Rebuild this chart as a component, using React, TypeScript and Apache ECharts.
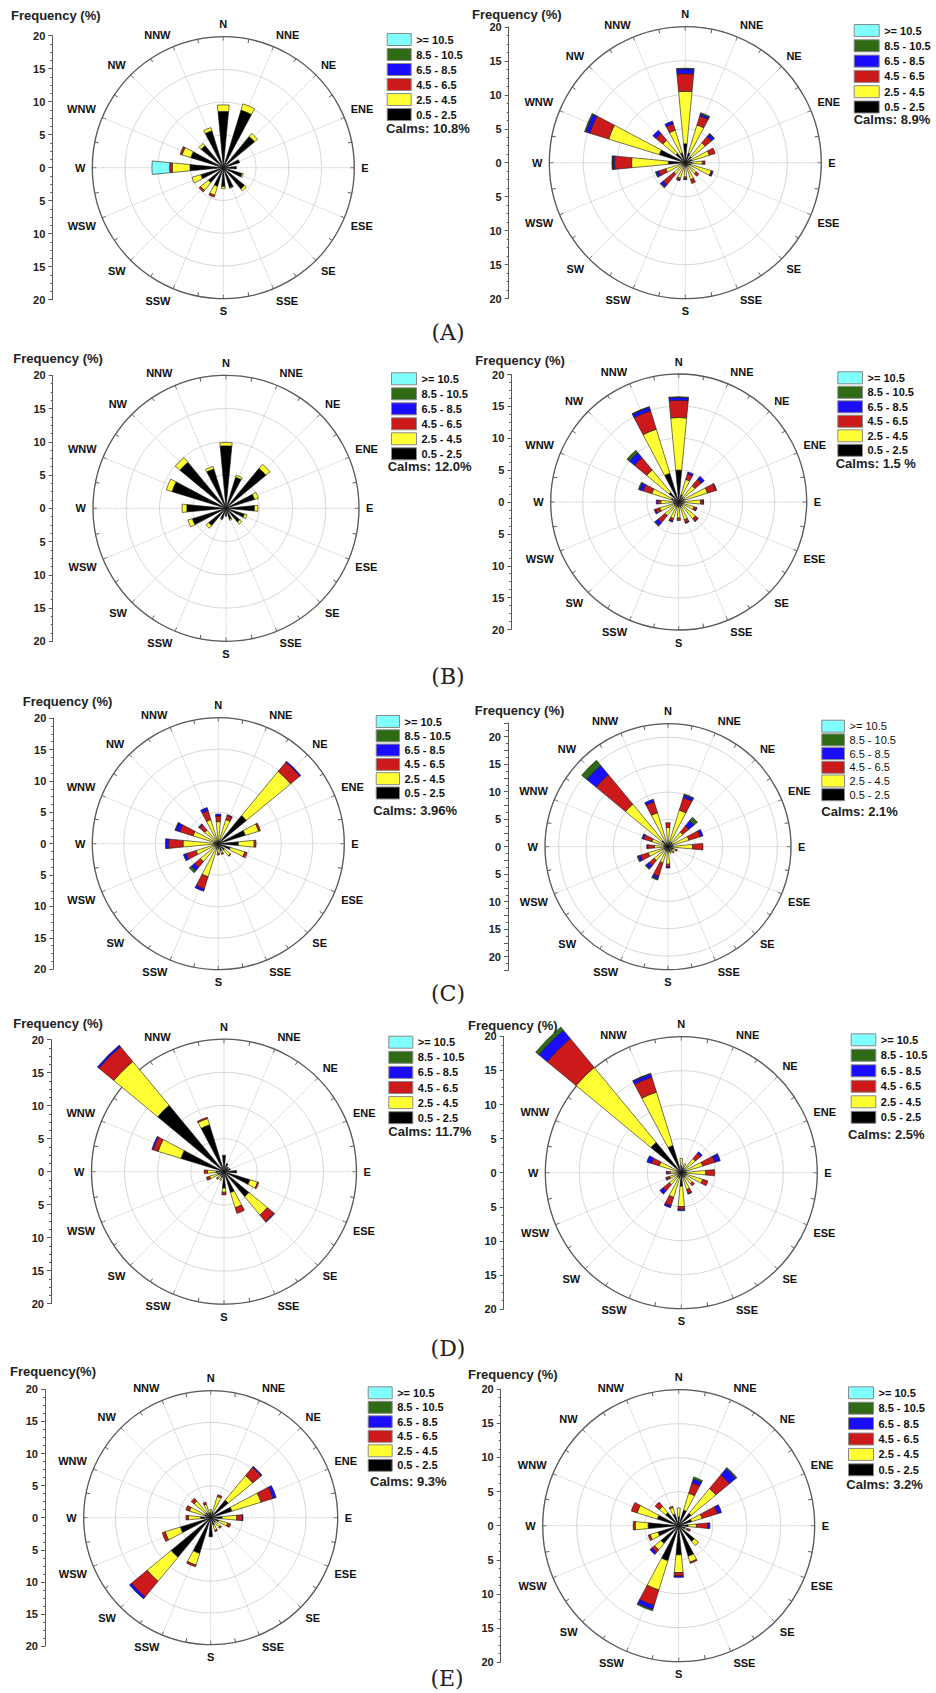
import React, { useEffect, useRef } from 'react';
import * as echarts from 'echarts';

const DIRECTIONS = ['N', 'NNE', 'NE', 'ENE', 'E', 'ESE', 'SE', 'SSE', 'S', 'SSW', 'SW', 'WSW', 'W', 'WNW', 'NW', 'NNW'];
const SPEED_CLASSES = ['0.5 - 2.5', '2.5 - 4.5', '4.5 - 6.5', '6.5 - 8.5', '8.5 - 10.5', '>= 10.5'];
const CLASS_COLORS = ['#000000', '#FFFF33', '#CC1A1A', '#1A0DFF', '#2E6B14', '#80FFFF'];
const PANEL_LETTERS = ['(A)', '(B)', '(C)', '(D)', '(E)'];

// frequency (%) per direction (N..NNW), per speed class [0.5-2.5, 2.5-4.5, 4.5-6.5, 6.5-8.5, 8.5-10.5, >=10.5]
const roseA1 = [
  [8.6, 1.0], [9.2, 1.0], [6.2, 0.6], [2.6], [2.0], [3.0, 0.2], [4.2, 0.4], [3.2, 0.1],
  [2.9, 0.3], [3.0, 1.4, 0.3], [3.0, 1.5, 0.3], [3.6, 1.4], [5.1, 2.7, 0.4, 0, 0, 2.7], [5.2, 1.4, 0.3], [4.4, 0.4], [5.9, 0.5],
];
const roseA2 = [
  [2.8, 7.7, 2.6, 0.7, 0.1], [1.5, 4.3, 1.4, 0.3, 0.2], [1.2, 2.6, 1.2, 0.5, 0.1], [1.0, 2.7, 0.9], [1.0, 1.5, 0.4], [0.8, 3.2, 0.1, 0.2], [0.6, 1.5, 0.5], [0.6, 2.0, 0.6],
  [0.6, 1.5, 0.3, 0.1], [0.6, 1.8, 0.3, 0.1], [0.6, 1.6, 2.0, 0.5, 0.1], [0.6, 2.4, 1.1, 0.4, 0.1], [2.5, 5.4, 2.5, 0.3, 0.1], [4.0, 7.8, 2.9, 0.6, 0.2], [1.8, 2.5, 1.3, 0.6], [1.5, 3.5, 1.0, 0.4],
];
const roseB1 = [
  [9.4, 0.5], [4.9, 0.3], [7.8, 0.8], [4.5, 0.6], [4.3, 0.5], [2.9, 0.4], [2.7, 0.4], [1.7, 0.2],
  [1.2], [1.7, 0.1], [3.4, 0.5], [5.3, 0.7], [5.9, 0.7], [8.5, 0.9], [9.0, 0.9], [6.2, 0.4],
];
const roseB2 = [
  [5.0, 8.2, 2.7, 0.45, 0.1], [1.2, 2.5, 0.9, 0.3], [1.0, 2.3, 1.3, 0.6], [1.0, 3.7, 1.4, 0.1], [0.8, 2.6, 0.4, 0.1], [0.7, 1.8, 0.4, 0.1], [0.8, 2.6, 0.5, 0.1], [0.8, 2.1, 0.5, 0.1],
  [0.8, 1.7, 0.4], [0.8, 1.9, 0.4, 0.2], [0.8, 2.0, 1.4, 0.6, 0.1], [0.8, 2.3, 0.7, 0.2], [0.8, 2.0, 0.5, 0.2], [1.2, 3.2, 1.4, 0.6, 0.2], [2.0, 4.5, 2.5, 1.0, 0.5], [4.7, 7.2, 3.0, 0.6, 0.1],
];
const roseC1 = [
  [0.5, 3.0, 0.9, 0.3], [0.5, 3.5, 0.7, 0.1], [5.8, 9.1, 1.9, 0.2], [4.5, 2.2, 0.3], [3.2, 2.5, 0.3], [2.0, 2.4, 0.4], [1.3, 1.2, 0.1], [1.2, 0.4, 0.2],
  [0.8, 0.7, 0.3], [0.8, 4.7, 2.0, 0.4], [0.7, 3.0, 1.2, 0.7, 0.4], [0.7, 3.0, 1.6, 0.5], [0.8, 4.8, 2.3, 0.5], [0.7, 3.5, 2.2, 0.7, 0.1], [0.5, 2.3, 1.1, 0.2], [0.5, 3.5, 1.5, 0.5],
];
const roseC2 = [
  [0.5, 3.0, 0.9], [1.0, 6.0, 2.4, 0.5, 0.2], [1.0, 2.5, 1.5, 1.2, 0.8], [1.0, 3.0, 2.2, 0.5], [1.0, 3.5, 1.9], [1.0, 0.5, 0.3], [1.0, 0.3, 0.2], [1.0, 0.3],
  [0.8, 2.4, 0.5, 0.2], [0.8, 2.3, 2.6, 0.5, 0.2], [0.8, 2.5, 1.2, 0.7, 0.2], [0.8, 3.0, 1.5, 0.4, 0.2], [0.8, 1.7, 1.2, 0.2], [0.8, 2.3, 1.6, 0.3], [1.5, 8.6, 7.0, 2.2, 1.2], [0.8, 5.7, 2.1, 0.5],
];
const roseD1 = [
  [2.5], [1.3], [0.9], [1.0], [1.9], [4.1, 1.2, 0.2], [4.9, 3.6, 1.3, 0.1], [3.3, 2.4, 0.9],
  [2.5, 0.6, 0.4], [0.9, 0.5], [0.8, 0.5, 0.2], [1.0, 1.3, 0.5], [1.2, 1.3, 0.5], [6.8, 3.6, 0.8, 0.2], [13.0, 8.6, 2.9, 0.3], [7.4, 1.0, 0.2],
];
const roseD2 = [
  [1.0, 1.1], [0.8, 0.6], [0.7, 2.0, 1.0, 0.3], [0.8, 2.5, 1.9, 0.7, 0.1], [0.8, 2.8, 1.3], [0.8, 2.5, 0.8], [0.8, 1.3, 0.4], [0.8, 1.8, 0.6, 0.1],
  [2.0, 3.0, 0.4, 0.2], [0.8, 3.0, 1.3, 0.3], [0.8, 1.5, 1.2, 0.6], [0.6, 1.2, 0.5, 0.1], [0.6, 1.0, 0.5, 0.1], [0.8, 2.6, 1.2, 0.7], [5.8, 14.3, 5.5, 1.6, 0.6], [4.2, 8.2, 2.3, 0.5, 0.1],
];
const roseE1 = [
  [0.8, 0.5], [0.9, 2.6, 0.3], [3.6, 5.0, 1.7, 0.2], [3.5, 4.8, 2.0, 0.5], [1.8, 2.3, 0.9, 0.1], [1.3, 1.5, 0.5], [1.0, 1.0, 0.2], [1.2, 0.9, 0.2],
  [3.0], [5.9, 1.9, 0.3], [8.1, 4.9, 3.2, 0.4], [5.0, 2.5, 0.5], [1.6, 1.9, 0.4], [1.0, 2.5, 0.6], [1.0, 2.4, 0.6], [0.8, 1.4, 0.4],
];
const roseE2 = [
  [1.3, 1.3], [2.4, 2.6, 1.6, 0.6, 0.3], [2.4, 4.7, 2.6, 1.2, 0.2], [2.0, 1.6, 2.4, 0.6], [1.4, 1.2, 1.7, 0.3], [1.0, 0.3, 0.5], [3.0, 0.8], [4.7, 0.9, 0.2],
  [4.3, 2.6, 0.5, 0.2], [5.4, 4.5, 2.4, 0.6, 0.2], [3.4, 1.2, 0.5, 0.4], [3.2, 1.2, 0.3], [4.5, 1.9, 0.3], [3.3, 3.1, 0.9], [2.5, 1.2, 0.8], [1.8, 1.0, 0.2],
];

const ROSES = [roseA1, roseA2, roseB1, roseB2, roseC1, roseC2, roseD1, roseD2, roseE1, roseE2];
const CALMS = ['Calms: 10.8%', 'Calms: 8.9%', 'Calms: 12.0%', 'Calms: 1.5 %', 'Calms: 3.96%', 'Calms: 2.1%', 'Calms: 11.7%', 'Calms: 2.5%', 'Calms: 9.3%', 'Calms: 3.2%'];
const RADIAL_MAX = [20, 20, 20, 20, 20, 22.5, 20, 20, 20, 20];
const FREQ_TITLES = ['Frequency (%)', 'Frequency (%)', 'Frequency (%)', 'Frequency (%)', 'Frequency (%)', 'Frequency (%)', 'Frequency (%)', 'Frequency (%)', 'Frequency(%)', 'Frequency (%)'];

// layout (pixels)
const LAYOUT = [
  { cx: 223.3, cy: 167.7, r: 131, half: 132, axX: 52.3, lgX: 386.7, lgY: 39, lgGap: 14, lgW: 24, lgBold: true, calmsX: 386, calmsY: 128, freqX: 11, freqY: 15.7 },
  { cx: 685.3, cy: 162.7, r: 136, half: 135.8, axX: 508.7, lgX: 853.7, lgY: 30, lgGap: 14.3, lgW: 25, lgBold: true, calmsX: 853.7, calmsY: 119, freqX: 472, freqY: 14 },
  { cx: 226, cy: 508.3, r: 133, half: 133, axX: 52.7, lgX: 391, lgY: 378.3, lgGap: 14, lgW: 25, lgBold: true, calmsX: 387.7, calmsY: 466.7, freqX: 13.3, freqY: 358.3 },
  { cx: 678.7, cy: 502, r: 128, half: 127.5, axX: 511.3, lgX: 837.3, lgY: 377.3, lgGap: 13.5, lgW: 24.7, lgBold: true, calmsX: 835.7, calmsY: 463.3, freqX: 475.3, freqY: 360 },
  { cx: 218.3, cy: 843.7, r: 126, half: 125.5, axX: 53.3, lgX: 375.7, lgY: 721, lgGap: 13.3, lgW: 23.3, lgBold: true, calmsX: 373.3, calmsY: 810.7, freqX: 22.7, freqY: 701 },
  { cx: 668, cy: 846.7, r: 123, half: 123.75, axX: 508, lgX: 821.3, lgY: 725.7, lgGap: 12.7, lgW: 22.7, lgBold: false, calmsX: 821.3, calmsY: 811.7, freqX: 474.7, freqY: 710.7 },
  { cx: 224, cy: 1171.7, r: 132.5, half: 132, axX: 51, lgX: 388.3, lgY: 1041.7, lgGap: 14.1, lgW: 24, lgBold: true, calmsX: 388.3, calmsY: 1131.7, freqX: 13.3, freqY: 1023.3 },
  { cx: 681.3, cy: 1172.7, r: 136, half: 136.3, axX: 503.7, lgX: 850.7, lgY: 1039.3, lgGap: 14.5, lgW: 24.6, lgBold: true, calmsX: 848, calmsY: 1134, freqX: 468, freqY: 1025 },
  { cx: 210.7, cy: 1517.7, r: 127, half: 128.3, axX: 45, lgX: 367.7, lgY: 1392.3, lgGap: 13.5, lgW: 24, lgBold: true, calmsX: 370, calmsY: 1481.7, freqX: 10, freqY: 1371 },
  { cx: 678.7, cy: 1525.7, r: 136, half: 136.5, axX: 500.7, lgX: 848, lgY: 1392.3, lgGap: 14.4, lgW: 25, lgBold: true, calmsX: 846.3, calmsY: 1484.3, freqX: 468, freqY: 1374.3 },
];
const LETTER_POS = [[448, 332], [448, 676], [448, 993], [448, 1348], [447, 1678]];

const FONT = '"Liberation Sans", Arial, Helvetica, sans-serif';
const ANGLE_CATS = DIRECTIONS.flatMap((d, i) => [d, d + '|' + DIRECTIONS[(i + 1) % 16]]);

function buildOption() {
  const polar = LAYOUT.map((l) => ({ center: [l.cx, l.cy], radius: l.r }));
  const angleAxis = LAYOUT.map((l, i) => ({
    polarIndex: i,
    type: 'category',
    data: ANGLE_CATS,
    startAngle: 90 + 360 / 64,
    clockwise: true,
    boundaryGap: true,
    z: 2,
    axisLine: { show: true, lineStyle: { color: '#5a5a5a', width: 1.3 } },
    axisTick: { show: true, inside: true, length: 4, interval: 0, alignWithLabel: true, lineStyle: { color: '#5a5a5a', width: 1 } },
    axisLabel: {
      show: true, interval: 0, margin: 7, fontSize: 11, fontWeight: 'bold', color: '#111', fontFamily: FONT,
      formatter: (v: string) => (v.indexOf('|') >= 0 ? '' : v),
    },
    splitLine: { show: true, lineStyle: { color: ['#bcbcbc', 'rgba(0,0,0,0)'], type: 'dotted', width: 0.9 } },
  }));
  const radiusAxis = LAYOUT.map((l, i) => ({
    polarIndex: i,
    type: 'value',
    min: 0,
    max: RADIAL_MAX[i],
    interval: 5,
    z: 1,
    axisLine: { show: false },
    axisTick: { show: false },
    axisLabel: { show: false },
    splitLine: { show: true, lineStyle: { color: '#d8d8d8', width: 1 } },
  }));
  const grid = LAYOUT.map((l) => ({ left: l.axX, top: l.cy - l.half, width: 10, height: 2 * l.half, containLabel: false }));
  const xAxis = LAYOUT.map((l, i) => ({ gridIndex: i, type: 'value', show: false }));
  const yAxis = LAYOUT.map((l, i) => {
    const m = RADIAL_MAX[i];
    const fine = m % 5 !== 0;
    return {
      gridIndex: i,
      type: 'value',
      min: -m,
      max: m,
      interval: fine ? 2.5 : 5,
      axisLine: { show: true, lineStyle: { color: '#5a5a5a', width: 1 } },
      axisTick: { show: true, length: 4, lineStyle: { color: '#5a5a5a', width: 1 } },
      minorTick: { show: true, splitNumber: fine ? 2 : 4, length: 2, lineStyle: { color: '#5a5a5a', width: 1 } },
      splitLine: { show: false },
      minorSplitLine: { show: false },
      axisLabel: {
        margin: 7, fontSize: 11, fontWeight: 'bold', color: '#222', fontFamily: FONT,
        formatter: (v: number) => (Math.abs(v) % 5 === 0 ? String(Math.abs(v)) : ''),
      },
    };
  });
  const series: any[] = [];
  ROSES.forEach((rose, p) => {
    SPEED_CLASSES.forEach((name, k) => {
      series.push({
        type: 'bar',
        name,
        coordinateSystem: 'polar',
        polarIndex: p,
        stack: 'rose' + p,
        data: rose.flatMap((row) => {
          const v = row[k] || 0;
          return [v > 0 ? v : '-', '-'];
        }),
        barCategoryGap: '4%',
        clip: false,
        silent: true,
        z: 3,
        itemStyle: { color: CLASS_COLORS[k], borderColor: '#1a1a1a', borderWidth: 0.6 },
        emphasis: { disabled: true },
      });
    });
  });
  const legend = LAYOUT.map((l) => ({
    orient: 'vertical',
    left: l.lgX,
    top: l.lgY - 6,
    padding: 0,
    itemWidth: l.lgW,
    itemHeight: 12,
    itemGap: l.lgGap - 12,
    icon: 'rect',
    selectedMode: false,
    data: [...SPEED_CLASSES].reverse(),
    textStyle: { fontSize: 11, fontWeight: l.lgBold ? 'bold' : 'normal', color: '#111', fontFamily: FONT, lineHeight: 12 },
    itemStyle: { borderColor: '#8a8a8a', borderWidth: 1 },
  }));
  const elements: any[] = [];
  LAYOUT.forEach((l, i) => {
    elements.push({
      type: 'text', x: l.freqX, y: l.freqY,
      style: { text: FREQ_TITLES[i], fill: '#222', font: 'bold 13px ' + FONT, align: 'left', verticalAlign: 'middle', textAlign: 'left', textVerticalAlign: 'middle' },
    });
    elements.push({
      type: 'text', x: l.calmsX, y: l.calmsY,
      style: { text: CALMS[i], fill: '#222', font: 'bold 13px ' + FONT, align: 'left', verticalAlign: 'middle', textAlign: 'left', textVerticalAlign: 'middle' },
    });
  });
  PANEL_LETTERS.forEach((t, i) => {
    elements.push({
      type: 'text', x: LETTER_POS[i][0], y: LETTER_POS[i][1],
      style: { text: t, fill: '#222', font: '22px "DejaVu Serif", serif', align: 'center', verticalAlign: 'middle', textAlign: 'center', textVerticalAlign: 'middle' },
    });
  });
  return {
    animation: false,
    backgroundColor: '#ffffff',
    textStyle: { fontFamily: FONT },
    polar,
    angleAxis,
    radiusAxis,
    grid,
    xAxis,
    yAxis,
    legend,
    series,
    graphic: { elements },
  };
}

export default function App() {
  const ref = useRef<HTMLDivElement>(null);
  useEffect(() => {
    const chart = echarts.init(ref.current as HTMLDivElement, undefined, { renderer: 'svg', width: 936, height: 1693 });
    chart.setOption(buildOption() as any);
    return () => chart.dispose();
  }, []);
  return <div ref={ref} style={{ position: 'absolute', left: 0, top: 0, width: 936, height: 1693, background: '#fff' }} />;
}
